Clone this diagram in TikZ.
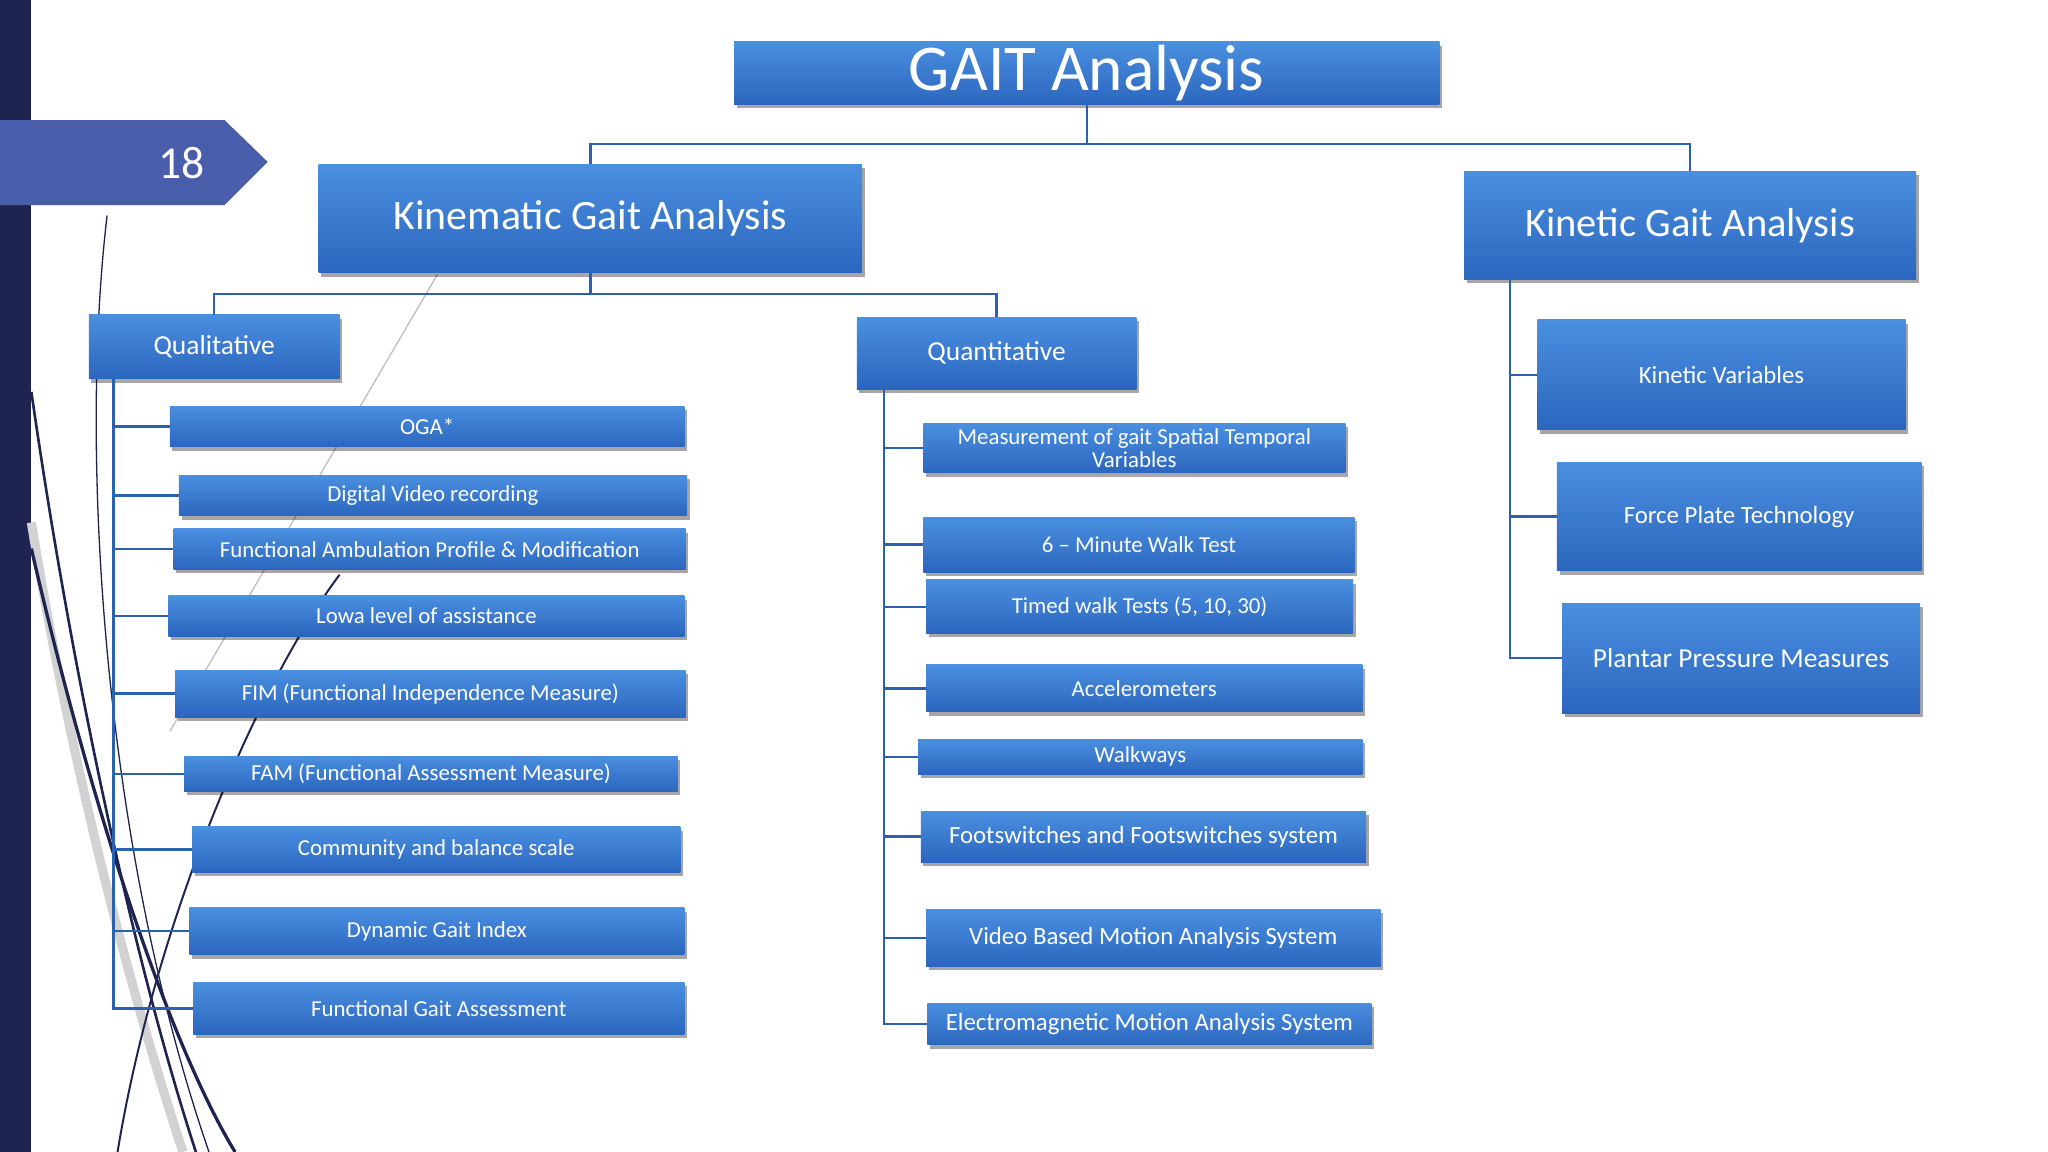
\documentclass[tikz,border=0pt]{standalone}
\usepackage{fontspec}
\setmainfont{Carlito}
\usetikzlibrary{shadows}
\definecolor{boxtop}{HTML}{4A8FE0}
\definecolor{boxbot}{HTML}{2B66BE}
\definecolor{linec}{HTML}{2A62B0}
\definecolor{navy}{HTML}{1E2350}
\definecolor{tabc}{HTML}{4A5DAA}
\definecolor{bgout}{HTML}{7FA8EC}
\pgfdeclareradialshading{bgsh}{\pgfpoint{0bp}{0bp}}{color(0bp)=(white); color(30bp)=(white); color(42bp)=(bgout!45); color(50bp)=(bgout)}
\tikzset{
  bx/.style={draw=none,top color=boxtop,bottom color=boxbot,text=white,align=center,inner sep=0pt,
    drop shadow={shadow xshift=2pt,shadow yshift=-3pt,fill=black,opacity=0.35}},
  conn/.style={draw=linec,line width=1.8pt},
}
\newcommand{\bxat}[7]{\node[bx,minimum width={#4-#2},minimum height={#5-#3},font=\fontsize{#6}{#6}\selectfont] (#1) at ({(#2+#4)/2},{(#3+#5)/2}) {#7};}
\begin{document}
\begin{tikzpicture}[x=1pt,y=-1pt]
\useasboundingbox (0,0) rectangle (1568,882);
\fill[bgout] (0,0) rectangle (1568,882);
\begin{scope}
\clip (0,0) rectangle (1568,882);
\shade[shading=bgsh] (784,420) ellipse (1000 and 820);
\end{scope}
\fill[navy] (0,0) rectangle (24,882);
% decorative curves
\draw[gray!35,line width=7pt] (24,400) .. controls (60,620) and (110,790) .. (140,882);
\draw[gray!50,line width=1pt] (335,210) -- (130,560);
\draw[navy,line width=1pt] (82,165) .. controls (60,350) and (80,650) .. (160,882);
\draw[navy,line width=2pt] (24,300) .. controls (60,550) and (110,760) .. (150,882);
\draw[navy,line width=2.5pt] (24,420) .. controls (70,620) and (130,800) .. (180,882);
\draw[navy,line width=1.5pt] (260,440) .. controls (200,520) and (120,700) .. (90,882);
\fill[tabc] (0,92) -- (172,92) -- (205,124) -- (172,157) -- (0,157) -- cycle;
\node[text=white,font=\fontsize{35}{35}\selectfont] (num) at (139,125) {18};
% top level
\bxat{gait}{562}{32}{1102}{80}{50}{GAIT Analysis}
\bxat{kin}{244}{126}{660}{209}{32}{Kinematic Gait Analysis}
\bxat{kt}{1121}{131}{1467}{214}{31}{Kinetic Gait Analysis}
\bxat{ql}{68}{241}{260}{290}{21}{Qualitative}
\bxat{qn}{656}{243}{870}{298}{21}{Quantitative}
% qualitative list
\bxat{a1}{130}{311}{524}{342}{17.5}{OGA*}
\bxat{a2}{137}{364}{526}{395}{17.5}{Digital Video recording}
\bxat{a3}{133}{405}{525}{436}{17.5}{Functional Ambulation Profile \& Modification}
\bxat{a4}{129}{456}{524}{487}{17.5}{Lowa level of assistance}
\bxat{a5}{134}{513}{525}{549}{17.5}{FIM (Functional Independence Measure)}
\bxat{a6}{141}{579}{519}{606}{17.5}{FAM (Functional Assessment Measure)}
\bxat{a7}{147}{633}{521}{668}{17.5}{Community and balance scale}
\bxat{a8}{145}{695}{524}{731}{17.5}{Dynamic Gait Index}
\bxat{a9}{148}{752}{524}{792}{17.5}{Functional Gait Assessment}
% quantitative list
\bxat{b1}{707}{324}{1030}{362}{17.5}{Measurement of gait Spatial Temporal\\Variables}
\bxat{b2}{707}{396}{1037}{438}{17.5}{6 -- Minute Walk Test}
\bxat{b3}{709}{444}{1036}{485}{17.5}{Timed walk Tests (5, 10, 30)}
\bxat{b4}{709}{509}{1043}{545}{17.5}{Accelerometers}
\bxat{b5}{703}{566}{1043}{593}{17.5}{Walkways}
\bxat{b6}{705}{621}{1046}{660}{19}{Footswitches and Footswitches system}
\bxat{b7}{709}{696}{1057}{740}{19}{Video Based Motion Analysis System}
\bxat{b8}{710}{768}{1050}{800}{19}{Electromagnetic Motion Analysis System}
% kinetic list
\bxat{c1}{1177}{245}{1459}{329}{19}{Kinetic Variables}
\bxat{c2}{1192}{354}{1471}{437}{19}{Force Plate Technology}
\bxat{c3}{1196}{462}{1470}{546}{21}{Plantar Pressure Measures}
% connectors
\draw[conn] (gait.south) -- ++(0,30) coordinate (g1) -| (kin.north);
\draw[conn] (g1) -| (kt.north);
\draw[conn] (kin.south) -- ++(0,16) coordinate (k1) -| (ql.north);
\draw[conn] (k1) -| (qn.north);
\coordinate (qlt) at (87,290);
\foreach \n in {a1,a2,a3,a4,a5,a6,a7,a8,a9} \draw[conn] (qlt) |- (\n.west);
\coordinate (qnt) at (677,298);
\foreach \n in {b1,b2,b3,b4,b5,b6,b7,b8} \draw[conn] (qnt) |- (\n.west);
\coordinate (ktt) at (1156,214);
\foreach \n in {c1,c2,c3} \draw[conn] (ktt) |- (\n.west);
\end{tikzpicture}
\end{document}
